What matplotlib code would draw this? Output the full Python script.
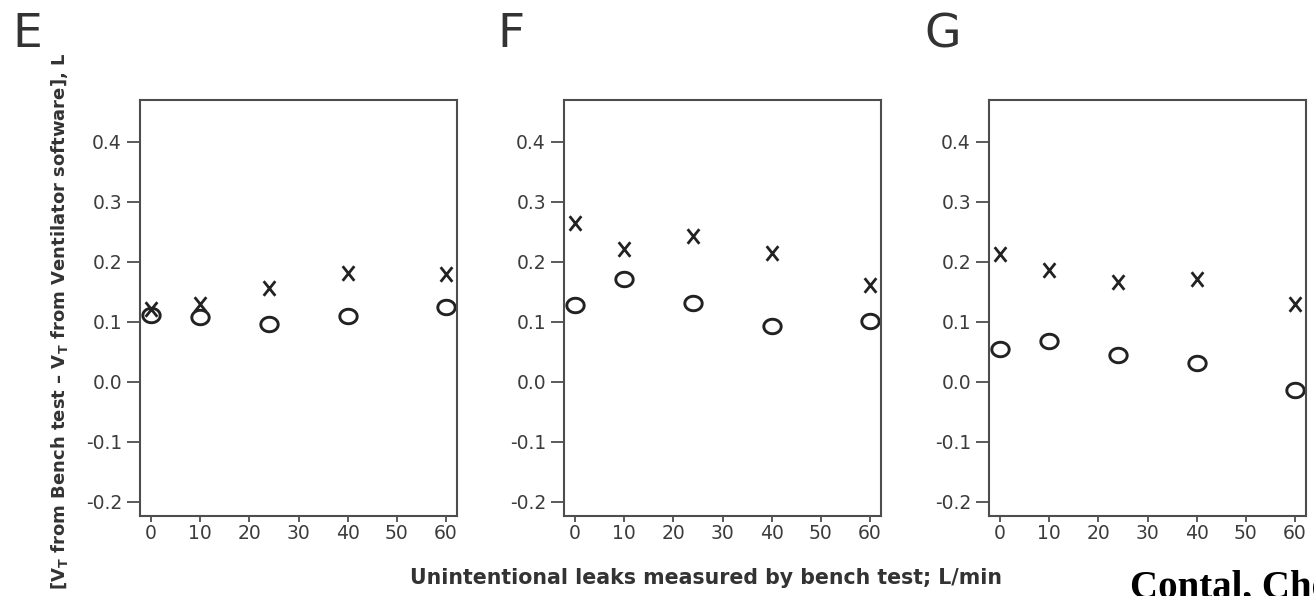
import numpy as np
import matplotlib
matplotlib.use("Agg")
import matplotlib.pyplot as plt
from matplotlib.path import Path
from matplotlib.markers import MarkerStyle
from matplotlib.ticker import FixedLocator, FormatStrFormatter

plt.rcParams["font.family"] = ["DejaVu Sans"]
plt.rcParams["axes.unicode_minus"] = False
plt.rcParams["mathtext.fontset"] = "custom"
plt.rcParams["mathtext.bf"] = "DejaVu Sans:bold"
plt.rcParams["mathtext.rm"] = "DejaVu Sans"

# Unintentional leak levels (L/min)
leaks = [0, 10, 24, 40, 60]

# Tidal-volume difference (L) for the two series in each panel
panel_names = ["E", "F", "G"]
cross_E = [0.122, 0.130, 0.156, 0.181, 0.180]
circle_E = [0.112, 0.108, 0.097, 0.110, 0.125]
cross_F = [0.264, 0.222, 0.243, 0.214, 0.161]
circle_F = [0.128, 0.171, 0.132, 0.093, 0.102]
cross_G = [0.213, 0.187, 0.166, 0.171, 0.130]
circle_G = [0.054, 0.068, 0.044, 0.031, -0.014]

y_ticks = [-0.2, -0.1, 0.0, 0.1, 0.2, 0.3, 0.4]
x_ticks = [0, 10, 20, 30, 40, 50, 60]

crosses = [cross_E, cross_F, cross_G]
circles = [circle_E, circle_F, circle_G]

W, H = 1314, 596
fig = plt.figure(figsize=(W / 100, H / 100), dpi=100)

# Marker glyphs: a slightly wide "O" and an upright "X"
t = np.linspace(0, 2 * np.pi, 73)
o_path = Path(np.column_stack([1.2 * np.cos(t), np.sin(t)]), closed=True)
x_path = Path([(-0.8, -1), (0.8, 1), (-0.8, 1), (0.8, -1)],
              [Path.MOVETO, Path.LINETO, Path.MOVETO, Path.LINETO])
o_marker = MarkerStyle(o_path)
x_marker = MarkerStyle(x_path)

frame_col = "#4d4d4d"
label_col = "#3c3c3c"
mark_col = "#222222"

ax_lefts = [140, 564, 989]
ax_w = 317
ax_top, ax_bot = 100, 516
letter_x = [12.5, 497.5, 924.5]

for i in range(3):
    ax = fig.add_axes([ax_lefts[i] / W, 1 - ax_bot / H, ax_w / W, (ax_bot - ax_top) / H])
    ax.plot(leaks, crosses[i], linestyle="none", marker=x_marker, markersize=10.5,
            markeredgewidth=2.0, color=mark_col, clip_on=False)
    ax.plot(leaks, circles[i], linestyle="none", marker=o_marker, markersize=12.5,
            markeredgewidth=2.1, markerfacecolor="none", markeredgecolor=mark_col,
            clip_on=False)
    ax.set_xlim(-2.25, 62.25)
    ax.set_ylim(-0.224, 0.47)
    ax.xaxis.set_major_locator(FixedLocator(x_ticks))
    ax.yaxis.set_major_locator(FixedLocator(y_ticks))
    ax.yaxis.set_major_formatter(FormatStrFormatter("%.1f"))
    for s in ax.spines.values():
        s.set_color(frame_col)
        s.set_linewidth(1.5)
    ax.tick_params(axis="y", direction="out", length=9.5, width=1.3, pad=3.5,
                   colors=frame_col, labelcolor=label_col, labelsize=13.5)
    ax.tick_params(axis="x", direction="out", length=4.5, width=1.3, pad=1.5,
                   colors=frame_col, labelcolor=label_col, labelsize=13.5)
    fig.text(letter_x[i] / W, 1 - 47 / H, panel_names[i], fontsize=34,
             color="#333333", ha="left", va="baseline")

fig.text(60 / W, 1 - 321 / H,
         r"[V$_\mathbf{T}$ from Bench test – V$_\mathbf{T}$ from Ventilator software], L",
         rotation=90, ha="center", va="center", fontsize=13, fontweight="bold",
         color="#333333")
fig.text(706 / W, 1 - 584 / H, "Unintentional leaks measured by bench test; L/min",
         ha="center", va="baseline", fontsize=14.8, fontweight="bold", color="#333333")
fig.text(1130 / W, 1 - 598 / H, "Contal, Chest", ha="left", va="baseline",
         fontsize=28, fontweight="bold", family="Liberation Serif", color="black")

fig.savefig("out.png", dpi=100)
